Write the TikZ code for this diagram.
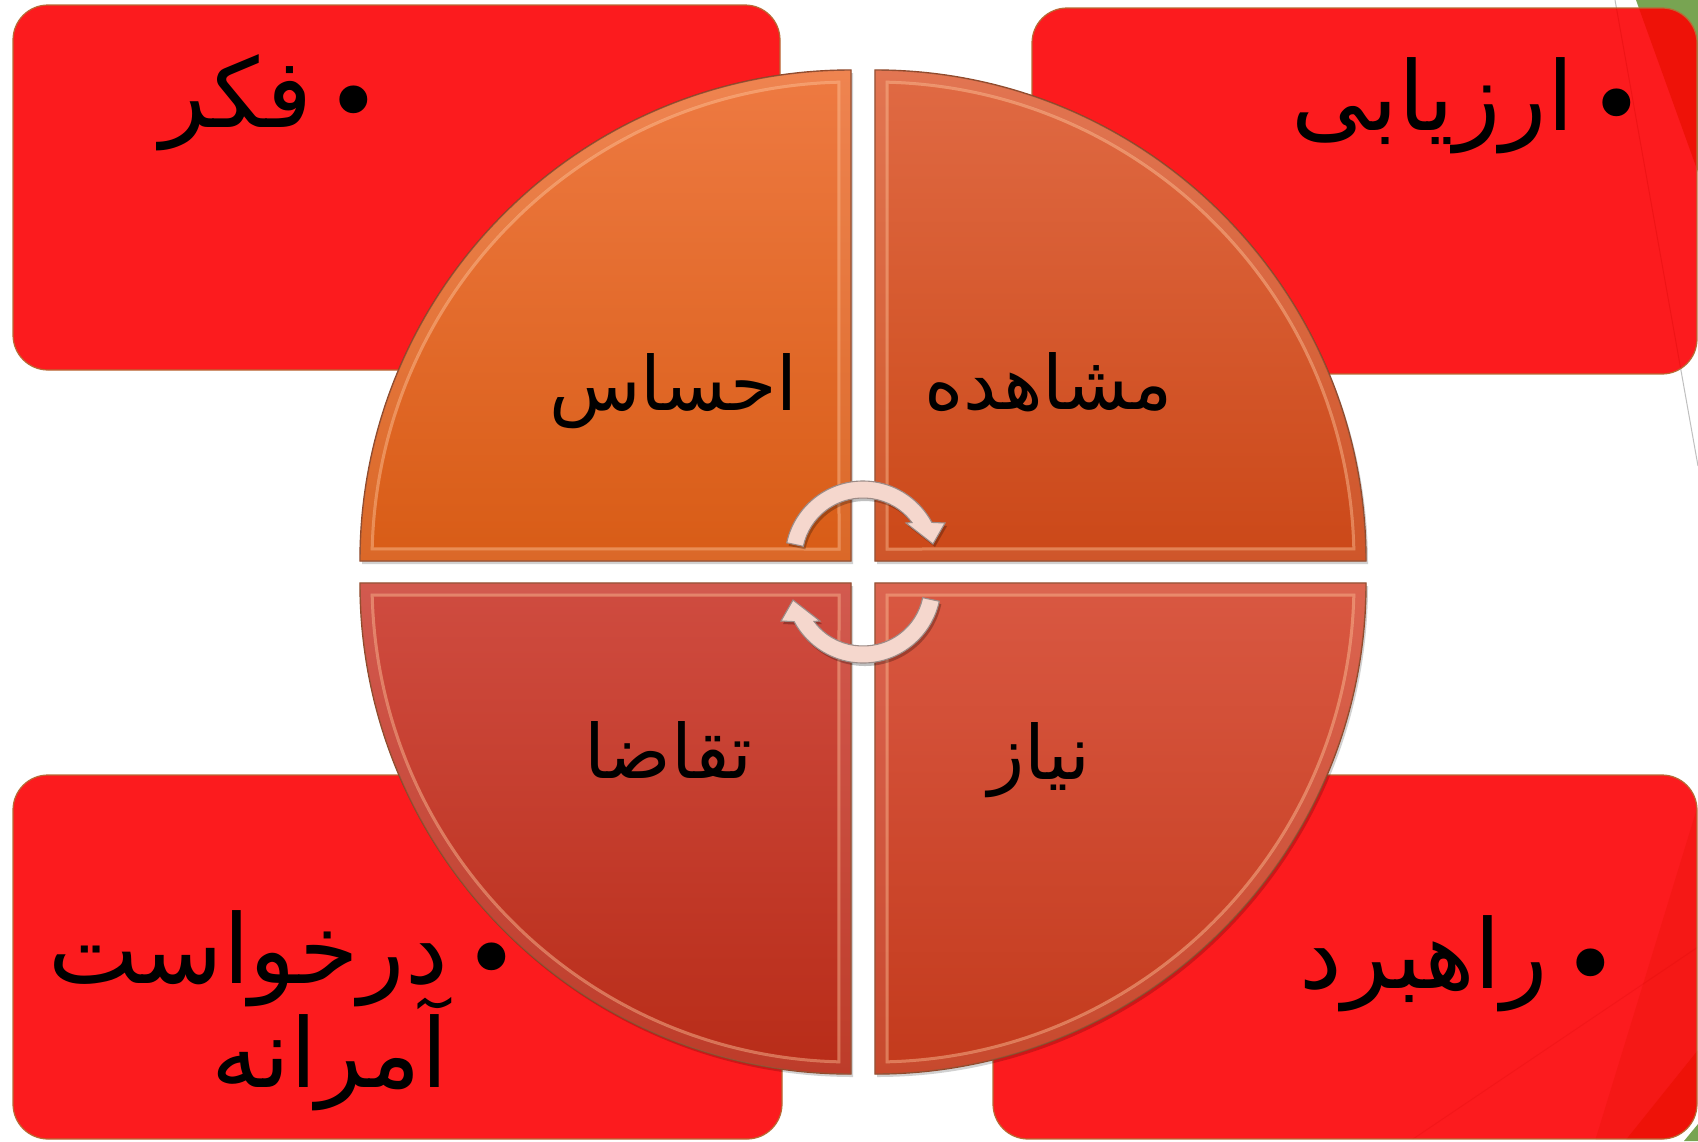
\documentclass[tikz,border=0pt]{standalone}
\usepackage{fontspec}
\TeXXeTstate=1
\newfontfamily\arabicfont[Script=Arabic]{DejaVu Sans}
\newfontfamily\dejavu{DejaVu Sans}
\definecolor{boxred}{HTML}{FC1B1E}
\definecolor{boxmid}{HTML}{F51816}
\definecolor{boxdark}{HTML}{EE1208}
\definecolor{boxedge}{HTML}{B86A35}
\definecolor{facetgreen}{HTML}{78A452}
\definecolor{qedge}{HTML}{8E4526}
\definecolor{bevel}{HTML}{FFC8A0}
\definecolor{tlTop}{HTML}{EE7A42}
\definecolor{tlBot}{HTML}{D85C16}
\definecolor{trTop}{HTML}{E06A44}
\definecolor{trBot}{HTML}{CB4818}
\definecolor{blTop}{HTML}{CF4C40}
\definecolor{blBot}{HTML}{B82C18}
\definecolor{brTop}{HTML}{D95842}
\definecolor{brBot}{HTML}{C33A1C}
\definecolor{arrowpink}{HTML}{F5D7CD}
\definecolor{arrowedge}{HTML}{9C8C88}

% quarter disc: centre x, centre y, start angle, inset corner x, inset corner y, top colour, bottom colour
\newcommand\qsector[7]{%
  \path[fill=black, opacity=.18] ([xshift=2pt,yshift=-3pt]#1,#2) -- ([shift={(#1+2,#2+3)}]#3:491) arc[start angle=#3, end angle=#3+90, radius=491] -- cycle;
  \path[top color=#6, bottom color=#7, draw=qedge, line width=1.4pt] (#1,#2) -- ([shift={(#1,#2)}]#3:491) arc[start angle=#3, end angle=#3+90, radius=491] -- cycle;
  \begin{scope}
    \clip (#1,#2) -- ([shift={(#1,#2)}]#3:491) arc[start angle=#3, end angle=#3+90, radius=491] -- cycle;
    \draw[white, opacity=.08, line width=22pt] (#1,#2) -- ([shift={(#1,#2)}]#3:491) arc[start angle=#3, end angle=#3+90, radius=491] -- cycle;
  \end{scope}
  \draw[bevel, opacity=.45, line width=3pt] (#4,#5) -- ([shift={(#1,#2)}]#3+1.45:479) arc[start angle=#3+1.45, end angle=#3+88.55, radius=479] -- cycle;
}

% circular arrow around centre (863,559)
\newcommand\cyclearrowpath{%
  ([shift={(863,559)}]192:78) arc[start angle=192, end angle=332, radius=78]
  -- (945,523) -- (933,544) -- (906,523)
  -- ([shift={(863,559)}]323.3:61)
  arc[start angle=323.3, end angle=192, radius=61] -- cycle}

\begin{document}
\begin{tikzpicture}[x=1pt,y=-1pt,
  redbox/.style={fill=boxred, draw=boxedge, line width=1.2pt, rounded corners=35pt},
  qlabel/.style={inner sep=0pt, text=black, font=\arabicfont\fontsize{75}{90}\selectfont},
  blabel/.style={inner sep=0pt, text=black, font=\arabicfont\fontsize{96}{112}\selectfont},
  bulletdot/.style={inner sep=0pt, text=black, font=\dejavu\fontsize{96}{112}\selectfont},
  arrowband/.style={fill=arrowpink, draw=arrowedge, line width=1.1pt},
  arrowshadow/.style={fill=black, opacity=.25}]
\useasboundingbox (0,0) rectangle (1698,1141);
\fill[white] (0,0) rectangle (1698,1141);

% background facets of the slide
\fill[facetgreen] (1636,0) -- (1698,0) -- (1698,172) -- cycle;
\fill[facetgreen] (1684,1141) -- (1698,1141) -- (1698,1124) -- cycle;
\draw[black!25, line width=1pt] (1615,0) -- (1698,466);

% red boxes
\path[redbox] (13,5) rectangle (780,370);
\begin{scope}
  \clip[rounded corners=35pt] (1032,8) rectangle (1697,374);
  \fill[boxred] (1032,8) rectangle (1697,374);
  \fill[boxdark] (1636,0) -- (1698,0) -- (1698,172) -- cycle;
  \draw[red!80!black, opacity=.25, line width=1pt] (1615,0) -- (1698,466);
\end{scope}
\draw[boxedge, line width=1.2pt, rounded corners=35pt] (1032,8) rectangle (1697,374);
\path[redbox] (13,775) rectangle (782,1139);
\begin{scope}
  \clip[rounded corners=35pt] (993,775) rectangle (1697,1139);
  \fill[boxred] (993,775) rectangle (1697,1139);
  \fill[boxmid] (1698,805) -- (1595,1141) -- (1698,1141) -- cycle;
  \fill[boxdark] (1625,1141) -- (1698,1050) -- (1698,1141) -- cycle;
  \draw[red!80!black, opacity=.15, line width=1pt] (1410,1141) -- (1698,947);
\end{scope}
\draw[boxedge, line width=1.2pt, rounded corners=35pt] (993,775) rectangle (1697,1139);

% four quarter discs
\qsector{851}{561}{180}{839}{549}{tlTop}{tlBot}
\qsector{875}{561}{270}{887}{549}{trTop}{trBot}
\qsector{851}{583}{90}{839}{595}{blTop}{blBot}
\qsector{875}{583}{0}{887}{595}{brTop}{brBot}

% circular arrows
\path[arrowshadow] [shift={(2,3)}] \cyclearrowpath;
\path[arrowband] \cyclearrowpath;
\begin{scope}[rotate around={180:(863,572)}]
  \path[arrowshadow] [shift={(-2,-3)}] \cyclearrowpath;
  \path[arrowband] \cyclearrowpath;
\end{scope}

% labels of the quarter discs
\node[qlabel, anchor=base east] (q1) at (798,410) {\beginR احساس\endR};
\node[qlabel, anchor=base east] (q2) at (1173,409) {\beginR مشاهده\endR};
\node[qlabel, anchor=base east] (q3) at (753,778) {\beginR تقاضا\endR};
\node[qlabel, anchor=base east] (q4) at (1091,779) {\beginR نیاز\endR};

% bulleted texts of the boxes
\node[bulletdot] (b1) at (354,111) {•};
\node[blabel, anchor=base east] (t1) at (313,127) {\beginR فکر\endR};
\node[bulletdot] (b2) at (1617,114) {•};
\node[blabel, anchor=base east] (t2) at (1574,130) {\beginR ارزیابی\endR};
\node[bulletdot] (b3) at (492,968) {•};
\node[blabel, anchor=base east] (t3) at (448,983) {\beginR درخواست\endR};
\node[blabel, anchor=base east] (t3b) at (448,1087) {\beginR آمرانه\endR};
\node[bulletdot] (b4) at (1591,974) {•};
\node[blabel, anchor=base east] (t4) at (1548,988) {\beginR راهبرد\endR};
\end{tikzpicture}
\end{document}
